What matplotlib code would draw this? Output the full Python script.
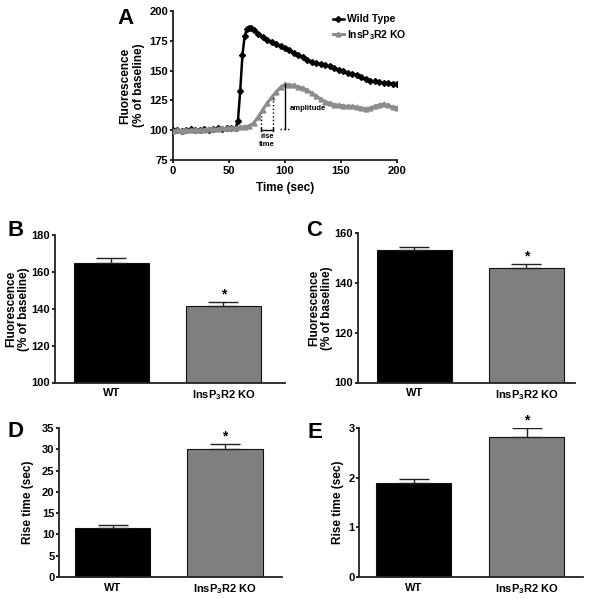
import matplotlib
matplotlib.use("Agg")
import matplotlib.pyplot as plt

plt.rcParams['font.family'] = ['Liberation Sans', 'DejaVu Sans']
plt.rcParams['font.weight'] = 'bold'
plt.rcParams['mathtext.fontset'] = 'custom'
plt.rcParams['mathtext.bf'] = 'Liberation Sans:bold'
plt.rcParams['mathtext.rm'] = 'Liberation Sans:bold'

# ---------------- data ----------------
time_wt = [0, 4, 8, 12, 16, 20, 24, 28, 32, 36, 40, 44, 48, 52, 56, 58, 60, 62, 64, 66,
           68, 70, 72, 76, 80, 84, 88, 92, 96, 100, 104, 108, 112, 116, 120, 124, 128,
           132, 136, 140, 144, 148, 152, 156, 160, 164, 168, 172, 176, 180, 184, 188,
           192, 196, 200]
fluo_wt = [100, 100.5, 99.5, 100, 101, 100, 100.5, 101, 100.5, 101, 101.5, 101, 101.5,
           102, 102, 108, 133, 163, 179, 185, 186, 185.5, 184, 181, 178.5, 176, 174,
           172, 170.5, 169, 167, 165, 163, 161, 159, 157.5, 156.5, 155.5, 154.5, 153.5,
           152, 150.5, 149.5, 148, 147.5, 146.5, 144.5, 143, 141.5, 141, 140.5, 140,
           139.5, 139, 138.5]
time_ko = [0, 4, 8, 12, 16, 20, 24, 28, 32, 36, 40, 44, 48, 52, 56, 60, 64, 68, 72, 76,
           80, 84, 88, 92, 96, 100, 104, 108, 112, 116, 120, 124, 128, 132, 136, 140,
           144, 148, 152, 156, 160, 164, 168, 172, 176, 180, 184, 188, 192, 196, 200]
fluo_ko = [99.5, 100, 99.5, 100, 100, 100.5, 100, 100.5, 101, 101, 101, 101.5, 101.5,
           102, 102, 102.5, 103, 103.5, 106, 111, 117, 122.5, 127.5, 132, 136, 138.5,
           138, 137.5, 136.5, 135, 133.5, 131, 128.5, 126, 124, 122.5, 121.5, 121,
           120.5, 120, 120, 119.5, 118.5, 118, 118.5, 120, 121, 122, 121, 119.5, 119]

groups = ['WT', r'InsP$_{\mathbf{3}}$R2 KO']
amp_mean = [165, 141.5]
amp_err = [2.5, 2.0]
amp2_mean = [153, 146]
amp2_err = [1.5, 1.5]
rise_mean = [11.5, 30.0]
rise_err = [0.7, 1.3]
rise2_mean = [1.9, 2.82]
rise2_err = [0.08, 0.18]

BLACK = '#000000'
GRAY = '#7f7f7f'
TICK_FS = 8
LABEL_FS = 8.5
LETTER_FS = 16
W, H = 590.0, 599.0

fig = plt.figure(figsize=(5.9, 5.99), dpi=100)

def px_axes(l, r, t, b):
    return [l / W, 1 - b / H, (r - l) / W, (b - t) / H]

def style(ax):
    for s in ['top', 'right']:
        ax.spines[s].set_visible(False)
    for s in ['left', 'bottom']:
        ax.spines[s].set_linewidth(1.3)
        ax.spines[s].set_color('#222222')
    ax.tick_params(axis='both', direction='out', length=2.5, width=1.2,
                   labelsize=TICK_FS, pad=1)
    for lab in ax.get_xticklabels() + ax.get_yticklabels():
        lab.set_fontweight('bold')

def place_ylabel(ax, rect_px, right_px):
    l, r = rect_px[0], rect_px[1]
    ax.yaxis.set_label_coords((right_px - l) / (r - l), 0.5)

# ---------------- panel A ----------------
rectA = (173, 397, 11, 160)
axA = fig.add_axes(px_axes(*rectA))
axA.plot(time_wt, fluo_wt, color=BLACK, lw=1.8, marker='D', ms=3,
         mec=BLACK, mfc=BLACK, label='Wild Type', zorder=3)
axA.plot(time_ko, fluo_ko, color='#8c8c8c', lw=2.2, marker='^', ms=3.5,
         mec='#8c8c8c', mfc='#8c8c8c', label=r'InsP$_{\mathbf{3}}$R2 KO', zorder=4)
axA.set_xlim(0, 200)
axA.set_ylim(75, 200)
axA.set_xticks([0, 50, 100, 150, 200])
axA.set_yticks([75, 100, 125, 150, 175, 200])
axA.set_xlabel('Time (sec)', fontsize=LABEL_FS, fontweight='bold', labelpad=4)
axA.set_ylabel('Fluorescence\n(% of baseline)', fontsize=LABEL_FS, fontweight='bold')
place_ylabel(axA, rectA, 145)
style(axA)
axA.tick_params(axis='x', pad=2)
leg = axA.legend(loc='upper right', bbox_to_anchor=(1.07, 1.02),
                 frameon=False, fontsize=7.5, handlelength=1.0, handletextpad=0.3,
                 labelspacing=0.35, borderaxespad=0.2)
for t in leg.get_texts():
    t.set_fontweight('bold')

# annotations (rise time / amplitude)
axA.plot([78.5, 78.5], [101.5, 114.4], ls=':', color=BLACK, lw=1.0, zorder=5)
axA.plot([89.3, 89.3], [101.5, 126.8], ls=':', color=BLACK, lw=1.0, zorder=5)
axA.plot([78.5, 89.3], [100.5, 100.5], color=BLACK, lw=1.0, zorder=5)
axA.plot([78.5, 78.5], [99.2, 101.8], color=BLACK, lw=1.0, zorder=5)
axA.plot([89.3, 89.3], [99.2, 101.8], color=BLACK, lw=1.0, zorder=5)
axA.plot([100.4, 100.4], [101, 138.8], color=BLACK, lw=1.0, zorder=5)
axA.plot([95.8, 105.7], [101, 101], ls=':', color=BLACK, lw=1.0, zorder=5)
axA.text(104, 118, 'amplitude', fontsize=5.5, fontweight='bold', ha='left', va='center')
axA.text(84, 91.3, 'rise\ntime', fontsize=5.5, fontweight='bold', ha='center',
         va='center', linespacing=1.1)
fig.text(126 / W, 1 - 19 / H, 'A', fontsize=LETTER_FS, fontweight='bold',
         ha='center', va='center')

# ---------------- bar panels ----------------
def bar_panel(rect_px, means, errs, ylim, yticks, ylabel, xlim, letter, lpos,
              star_off, label_right, lsp):
    ax = fig.add_axes(px_axes(*rect_px))
    xs = [0, 1]
    ax.bar(xs, [m - ylim[0] for m in means], bottom=ylim[0], width=0.67,
           color=[BLACK, GRAY], edgecolor='#111111', linewidth=0.8, zorder=2)
    ax.errorbar(xs, means, yerr=[[0, 0], errs], fmt='none', ecolor='#222222',
                elinewidth=1.0, capsize=11, capthick=1.0, zorder=3)
    ax.text(1, means[1] + errs[1] + star_off, '*', ha='center', va='bottom',
            fontsize=10, fontweight='bold')
    ax.set_xlim(*xlim)
    ax.set_ylim(*ylim)
    ax.set_yticks(yticks)
    ax.set_xticks(xs)
    ax.set_xticklabels(groups)
    ax.set_ylabel(ylabel, fontsize=LABEL_FS, fontweight='bold', linespacing=lsp)
    place_ylabel(ax, rect_px, label_right)
    style(ax)
    ax.tick_params(axis='x', length=0, pad=4)
    fig.text(lpos[0] / W, 1 - lpos[1] / H, letter, fontsize=LETTER_FS,
             fontweight='bold', ha='center', va='center')
    return ax

bar_panel((55, 285, 235, 382.5), amp_mean, amp_err, (100, 180),
          [100, 120, 140, 160, 180], 'Fluorescence\n(% of baseline)',
          (-0.504, 1.549), 'B', (15.5, 230.5), 0.3, 30, 1.05)
bar_panel((358, 575, 233, 382.5), amp2_mean, amp2_err, (100, 160),
          [100, 120, 140, 160], 'Fluorescence\n(% of baseline)',
          (-0.504, 1.433), 'C', (314.5, 230.5), 0.2, 333, 1.05)
bar_panel((59.3, 282, 428, 577), rise_mean, rise_err, (0, 35),
          [0, 5, 10, 15, 20, 25, 30, 35], 'Rise time (sec)',
          (-0.479, 1.509), 'D', (15.5, 431.5), 0.1, 34.5, 1.2)
bar_panel((359.3, 583, 428, 577), rise2_mean, rise2_err, (0, 3),
          [0, 1, 2, 3], 'Rise time (sec)',
          (-0.48, 1.5), 'E', (315, 432.5), 0.01, 344, 1.2)

fig.savefig('out.png', dpi=100)
